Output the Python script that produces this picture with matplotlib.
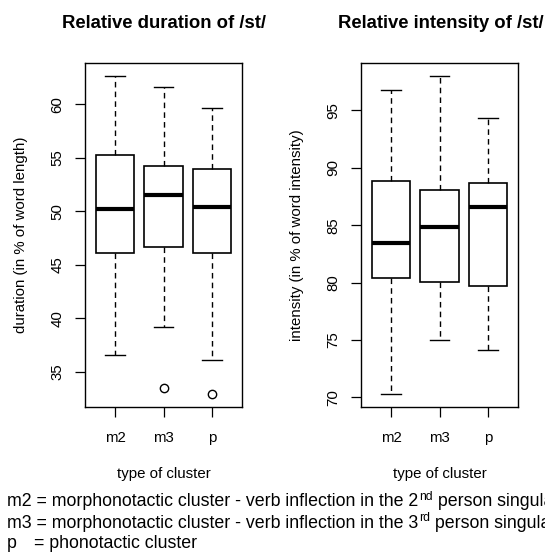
import matplotlib
matplotlib.use("Agg")
import matplotlib.pyplot as plt

plt.rcParams['font.family'] = ['Liberation Sans', 'DejaVu Sans']

W, H = 545, 556
DPI = 100

categories = ["m2", "m3", "p"]

# duration (in % of word length)
dur_whislo = [36.56, 39.19, 36.06]
dur_q1 = [46.13, 46.66, 46.06]
dur_med = [50.22, 51.50, 50.41]
dur_q3 = [55.28, 54.22, 53.91]
dur_whishi = [62.66, 61.63, 59.66]
dur_fliers = [[], [33.5], [32.88]]
dur_ticks = [35, 40, 45, 50, 55, 60]

# intensity (in % of word intensity)
int_whislo = [70.26, 75.03, 74.13]
int_q1 = [80.36, 80.01, 79.69]
int_med = [83.42, 84.84, 86.62]
int_q3 = [88.86, 88.10, 88.68]
int_whishi = [96.75, 98.03, 94.36]
int_fliers = [[], [], []]
int_ticks = [70, 75, 80, 85, 90, 95]

titles = ["Relative duration of /st/", "Relative intensity of /st/"]
ylabels = ["duration (in % of word length)", "intensity (in % of word intensity)"]
xlabel = "type of cluster"

FS = 10.8
FFS = 12.8
fig = plt.figure(figsize=(W / DPI, H / DPI), dpi=DPI)


def px(x, y):
    return x / W, 1 - y / H


def panel(left, stats_src, ticks, title, ylabel):
    whislo, q1, med, q3, whishi, fliers = stats_src
    ax = fig.add_axes([left / W, (H - 407) / H, 157 / W, 344 / H])
    stats = []
    for i, lab in enumerate(categories):
        stats.append(dict(label=lab, whislo=whislo[i], q1=q1[i], med=med[i],
                          q3=q3[i], whishi=whishi[i], fliers=fliers[i]))
    ax.bxp(stats, positions=[1, 2, 3], widths=0.8, capwidths=0.4,
           patch_artist=True,
           boxprops=dict(facecolor='white', edgecolor='black', linewidth=1.2),
           medianprops=dict(color='black', linewidth=3, solid_capstyle='butt'),
           whiskerprops=dict(color='black', linewidth=1.0, linestyle=(0, (4, 3))),
           capprops=dict(color='black', linewidth=1.0),
           flierprops=dict(marker='o', markerfacecolor='none', markeredgecolor='black',
                           markersize=6, markeredgewidth=1.0))
    lo = min(whislo + [v for f in fliers for v in f])
    hi = max(whishi + [v for f in fliers for v in f])
    span = hi - lo
    ax.set_ylim(lo - 0.04 * span, hi + 0.04 * span)
    ax.set_xlim(0.5 - 0.12, 3.5 + 0.12)
    ax.set_yticks(ticks)
    ax.set_yticklabels([str(t) for t in ticks], rotation=90, va='center')
    ax.set_xticks([1, 2, 3])
    ax.set_xticklabels(categories)
    ax.tick_params(axis='both', length=7, width=0.9, labelsize=FS, color='black')
    ax.tick_params(axis='y', pad=8)
    ax.tick_params(axis='x', pad=10)
    for s in ax.spines.values():
        s.set_linewidth(1.0)
    cx = left + 157 / 2
    fig.text(*px(cx + 1, 23), title, ha='center', va='center',
             fontsize=13.3, fontweight='bold')
    fig.text(*px(left - 64, 235), ylabel, ha='center', va='center',
             rotation=90, fontsize=FS)
    fig.text(*px(cx, 474), xlabel, ha='center', va='center', fontsize=FS)
    return ax


panel(85, (dur_whislo, dur_q1, dur_med, dur_q3, dur_whishi, dur_fliers),
      dur_ticks, titles[0], ylabels[0])
panel(361, (int_whislo, int_q1, int_med, int_q3, int_whishi, int_fliers),
      int_ticks, titles[1], ylabels[1])

# footer legend
lines = [("m2 = morphonotactic cluster - verb inflection in the 2", "nd", " person singular"),
         ("m3 = morphonotactic cluster - verb inflection in the 3", "rd", " person singular")]
ys = [502, 523]
for (a, sup, b), y in zip(lines, ys):
    t1 = fig.text(*px(7, y), a, ha='left', va='center', fontsize=FFS)
    t2 = plt.annotate(sup, xy=(1, 0.45), xycoords=t1, xytext=(0.6, 0),
                      textcoords='offset points', ha='left', va='bottom',
                      fontsize=FFS * 0.68, annotation_clip=False)
    plt.annotate(b, xy=(1, 0.5), xycoords=(t2, t1), ha='left', va='center',
                 fontsize=FFS, annotation_clip=False)
fig.text(*px(7, 544), "p", ha='left', va='center', fontsize=FFS)
fig.text(*px(34.5, 544), "= phonotactic cluster", ha='left', va='center', fontsize=FFS)

fig.savefig("out.png", dpi=DPI)
